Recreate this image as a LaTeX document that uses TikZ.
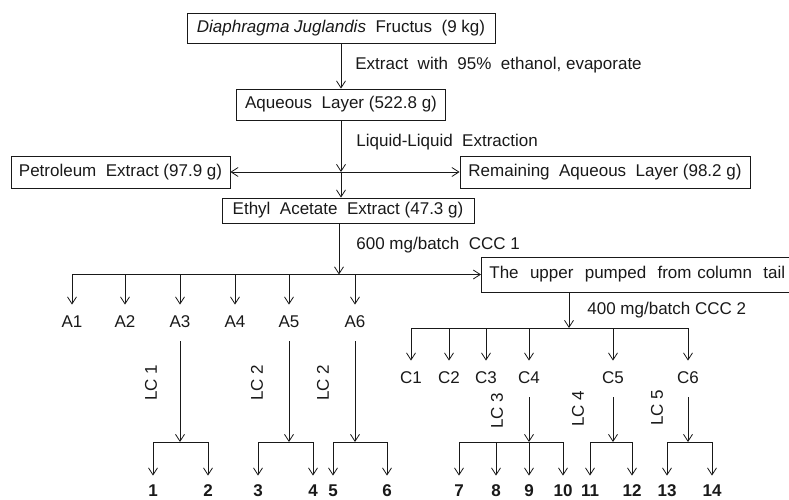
\documentclass[tikz,border=0pt]{standalone}
\usepackage{fontspec}
\setmainfont{Liberation Sans}
\usetikzlibrary{arrows.meta}

\begin{document}
\begin{tikzpicture}[x=1pt,y=1pt,yscale=-1,
  color=black!90, line width=0.8pt,
  every node/.style={font=\fontsize{17}{20}\selectfont, inner sep=1pt},
  box/.style={draw, inner sep=0pt, minimum height=30pt},
  tag/.style={inner xsep=1pt, inner ysep=10pt, text height=12pt, text depth=4pt},
  num/.style={tag, inner ysep=8pt, text depth=0pt, font=\fontsize{17}{20}\selectfont\bfseries},
  lc/.style={rotate=90},
  arr/.style={-{Straight Barb[length=7pt,width=9pt]}}]
  \useasboundingbox (0,0) rectangle (789,499);

  % boxes
  \node[box, minimum width=308pt] (src) at (341,28.5) {\textit{Diaphragma Juglandis}~~Fructus~~(9 kg)};
  \node[box, minimum width=209pt, minimum height=31pt] (aq) at (341,104.5) {Aqueous~~Layer (522.8 g)};
  \node[box, minimum width=219pt, minimum height=32pt] (pet) at (120.5,172) {Petroleum~~Extract (97.9 g)};
  \node[box, minimum width=290pt, minimum height=32pt] (rem) at (605,172) {Remaining~~Aqueous~~Layer (98.2 g)};
  \node[box, minimum width=252pt, minimum height=25pt] (eth) at (348,210.5) {Ethyl~~Acetate~~Extract (47.3 g)};
  \node[box, anchor=west, minimum height=35pt, text width=300pt, inner xsep=8pt, align=left] (up) at (481,274.5) {The~~upper~~pumped~~from column~~tail};

  % step labels
  \node[anchor=west] (ext) at (354,65) {Extract~~with~~95\%~~ethanol, evaporate};
  \node[anchor=west] (lle) at (355,142) {Liquid-Liquid~~Extraction};
  \node[anchor=west] (ccc1) at (355,245) {600 mg/batch~~CCC 1};
  \node[anchor=west] (ccc2) at (586,310) {400 mg/batch CCC 2};

  % fractions
  \foreach \n/\x in {1/72,2/125,3/180,4/235,5/289,6/355}
    \node[tag] (a\n) at (\x,323) {A\n};
  \foreach \n/\x in {1/411,2/449,3/486,4/529,5/613,6/688}
    \node[tag] (c\n) at (\x,379) {C\n};
  \foreach \n/\x in {1/153,2/208,3/258,4/313,5/333,6/387,7/459,8/496,9/529,10/563,11/590,12/632,13/667,14/712}
    \node[num] (n\n) at (\x,490) {\n};
  \foreach \i/\x/\y/\t in {1/151/383/LC 1,2/257/383/LC 2,3/323/383/LC 2,4/497/411/LC 3,5/578/409/LC 4,6/657/408/LC 5}
    \node[lc] (lc\i) at (\x,\y) {\t};

  % extraction
  \coordinate (j1) at (341,172);
  \draw[arr] (src) -- (aq);
  \draw[arr] (aq) -- (j1);
  \draw[arr] (j1) -- (pet);
  \draw[arr] (j1) -- (rem);
  \draw[arr] (j1) -- (j1 |- eth.north);

  % CCC 1
  \coordinate (b1) at (339,274.5);
  \draw[arr] (b1 |- eth.south) -- (b1);
  \draw[arr] (a1 |- b1) -- (up);
  \foreach \n in {1,...,6}
    \draw[arr] (a\n |- b1) -- (a\n);

  % CCC 2
  \coordinate (b2) at (569,328);
  \draw[arr] (b2 |- up.south) -- (b2);
  \draw (c1 |- b2) -- (c6 |- b2);
  \foreach \n in {1,...,6}
    \draw[arr] (c\n |- b2) -- (c\n);

  % LC
  \foreach \p/\f/\l in {a3/1/2,a5/3/4,a6/5/6,c4/7/10,c5/11/12,c6/13/14} {
    \coordinate (t) at (\p |- 0,442);
    \draw[arr] (\p) -- (t);
    \draw (n\f |- t) -- (n\l |- t);
  }
  \foreach \n in {1,...,14}
    \draw[arr] (n\n |- 0,442) -- (n\n);
\end{tikzpicture}
\end{document}
